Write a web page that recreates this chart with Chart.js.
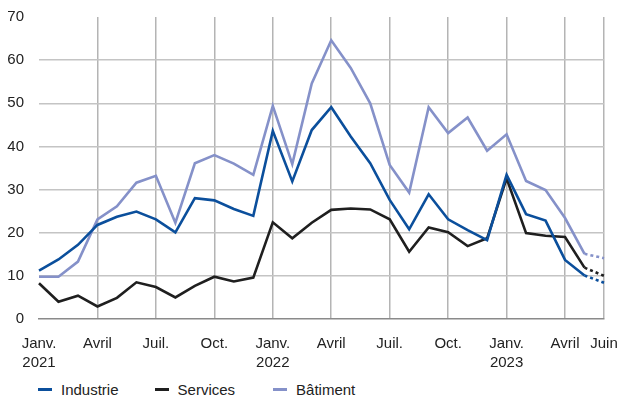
<!DOCTYPE html>
<html>
<head>
<meta charset="utf-8">
<script src="https://cdn.jsdelivr.net/npm/chart.js@4/dist/chart.umd.min.js"></script>
<style>
  body { margin: 0; background: #fff; }
  #wrap { position: relative; width: 617px; height: 401px; font-family: "Liberation Sans", Arial, sans-serif; }
  #legend { position: absolute; left: 38px; top: 381px; display: flex; font-size: 15px; color: #222; }
  #legend .item { display: flex; align-items: center; }
  #legend .mark { width: 14px; height: 3px; margin-right: 9px; }
</style>
</head>
<body>
<div id="wrap">
  <canvas id="chart" width="617" height="375"></canvas>
  <div id="legend"></div>
</div>
<script>
var months = ['2021-01', '2021-02', '2021-03', '2021-04', '2021-05', '2021-06', '2021-07', '2021-08', '2021-09', '2021-10', '2021-11', '2021-12',
              '2022-01', '2022-02', '2022-03', '2022-04', '2022-05', '2022-06', '2022-07', '2022-08', '2022-09', '2022-10', '2022-11', '2022-12',
              '2023-01', '2023-02', '2023-03', '2023-04', '2023-05', '2023-06'];

var tickLabels = [['Janv.', '2021'], '', '', 'Avril', '', '', 'Juil.', '', '', 'Oct.', '', '',
                  ['Janv.', '2022'], '', '', 'Avril', '', '', 'Juil.', '', '', 'Oct.', '', '',
                  ['Janv.', '2023'], '', '', 'Avril', '', 'Juin'];

var industrie = [11.2, 13.8, 17.2, 21.8, 23.7, 24.9, 23.1, 20.1, 28.0, 27.5, 25.5, 23.9,
                 43.6, 31.9, 43.8, 49.1, 42.3, 36.1, 27.6, 20.8, 28.9, 23.1, 20.6, 18.3,
                 33.4, 24.3, 22.8, 13.7, 10.1, 8.4];

var services = [8.3, 4.0, 5.4, 2.9, 4.9, 8.5, 7.4, 5.0, 7.7, 9.8, 8.7, 9.6,
                22.4, 18.7, 22.3, 25.3, 25.6, 25.4, 23.1, 15.6, 21.2, 20.1, 16.9, 18.7,
                32.6, 19.9, 19.3, 19.0, 11.9, 10.0];

var batiment = [9.8, 9.8, 13.3, 23.1, 26.1, 31.6, 33.2, 22.3, 36.1, 38.0, 36.0, 33.4,
                49.4, 35.9, 54.6, 64.6, 58.2, 50.0, 35.7, 29.3, 49.1, 43.1, 46.7, 39.0,
                42.8, 32.0, 29.9, 23.4, 15.1, 14.1];

var seriesNames = ['Industrie', 'Services', 'Bâtiment'];
var seriesColors = ['#0b4f9c', '#1f1f1f', '#8591c9'];
var legendGaps = [36, 38, 0];

// last month is an estimate: dotted
var lastIndex = months.length - 1;
function dashLast(ctx) {
    return ctx.p1DataIndex === lastIndex ? [3, 3] : undefined;
}

function makeSet(name, values, color) {
    return {
        label: name,
        data: values,
        borderColor: color,
        backgroundColor: color,
        borderWidth: 2.6,
        pointRadius: 0,
        tension: 0,
        segment: { borderDash: dashLast }
    };
}

var fontFamily = '"Liberation Sans", Arial, sans-serif';

var ctx = document.getElementById('chart').getContext('2d');
var chart = new Chart(ctx, {
    type: 'line',
    data: {
        labels: months,
        datasets: [
            makeSet(seriesNames[0], industrie, seriesColors[0]),
            makeSet(seriesNames[1], services, seriesColors[1]),
            makeSet(seriesNames[2], batiment, seriesColors[2])
        ]
    },
    options: {
        responsive: false,
        animation: false,
        layout: { padding: { left: 0, right: 0, top: 17, bottom: 0 } },
        plugins: {
            legend: { display: false },
            tooltip: { enabled: false }
        },
        scales: {
            x: {
                offset: false,
                afterFit: function(scale) {
                    scale.paddingLeft = 0;
                    scale.paddingRight = 13;
                    scale.height = 56;
                },
                grid: {
                    drawTicks: false,
                    lineWidth: 1.5,
                    color: function(c) {
                        if (c.index === 0 || c.index === lastIndex) return 'rgba(0,0,0,0)';
                        return '#b4b4b4';
                    }
                },
                border: { display: true, color: '#8a8a8a', width: 1.5 },
                ticks: {
                    autoSkip: false,
                    maxRotation: 0,
                    padding: 15,
                    color: '#222',
                    font: { family: fontFamily, size: 15, lineHeight: 1.3 },
                    callback: function(value, index) {
                        return tickLabels[index] === '' ? null : tickLabels[index];
                    }
                }
            },
            y: {
                min: 0,
                max: 70,
                afterFit: function(scale) {
                    scale.width = 39;
                    scale.paddingTop = 0;
                    scale.paddingBottom = 0;
                },
                grid: {
                    drawTicks: false,
                    lineWidth: 1.5,
                    color: function(c) {
                        if (c.tick.value === 70 || c.tick.value === 0) return 'rgba(0,0,0,0)';
                        return '#c4c4c4';
                    }
                },
                border: { display: false },
                ticks: {
                    stepSize: 10,
                    padding: 15,
                    color: '#222',
                    font: { family: fontFamily, size: 15 }
                }
            }
        }
    }
});

var legend = document.getElementById('legend');
seriesNames.forEach(function(name, i) {
    var item = document.createElement('div');
    item.className = 'item';
    item.style.marginRight = legendGaps[i] + 'px';
    var mark = document.createElement('span');
    mark.className = 'mark';
    mark.style.background = seriesColors[i];
    var text = document.createElement('span');
    text.textContent = name;
    item.appendChild(mark);
    item.appendChild(text);
    legend.appendChild(item);
});
</script>
</body>
</html>
